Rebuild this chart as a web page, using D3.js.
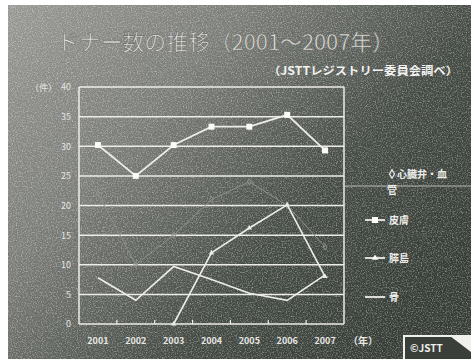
<!DOCTYPE html>
<html>
<head>
<meta charset="utf-8">
<script src="https://cdn.jsdelivr.net/npm/d3@7"></script>
<style>
  body { margin: 0; background: #fff; }
  svg { display: block; }
  text { font-family: "Noto Sans CJK JP", "Noto Sans", sans-serif; }
</style>
</head>
<body>
<div id="chart"></div>
<script>
// donor counts per year
const years = ["2001", "2002", "2003", "2004", "2005", "2006", "2007"];
const valveVessel = [22, 10, 15, 21, 24, 20, 13];   // faint in the scan, rough guess
const skin = [30.2, 25, 30.2, 33.3, 33.3, 35.3, 29.3];
const islet = [null, null, 0, 12, 16.2, 20.1, 8];
const bone = [7.8, 4, 9.7, 7.5, 5.2, 4, 8.3];
const yTicks = [0, 5, 10, 15, 20, 25, 30, 35, 40];
const seriesNames = ["心臓弁・血", "皮膚", "膵島", "骨"];

const width = 471, height = 359;
const svg = d3.select("#chart").append("svg")
  .attr("width", width)
  .attr("height", height);

const defs = svg.append("defs");
const grad = defs.append("linearGradient")
  .attr("id", "bg").attr("x1", 0).attr("y1", 0).attr("x2", 1).attr("y2", 0.7);
grad.append("stop").attr("offset", 0).attr("stop-color", "#989895");
grad.append("stop").attr("offset", 0.35).attr("stop-color", "#7b7d78");
grad.append("stop").attr("offset", 0.7).attr("stop-color", "#454b45");
grad.append("stop").attr("offset", 1).attr("stop-color", "#363c36");

const noise = defs.append("filter").attr("id", "grain")
  .attr("x", 0).attr("y", 0).attr("width", "100%").attr("height", "100%");
noise.append("feTurbulence")
  .attr("type", "fractalNoise").attr("baseFrequency", 0.8)
  .attr("numOctaves", 2).attr("seed", 3);
noise.append("feColorMatrix").attr("type", "matrix")
  .attr("values", "0 0 0 0 1  0 0 0 0 1  0 0 0 0 1  0 0 0 2 -0.9");

// slide background
svg.append("rect").attr("x", 8).attr("y", 5)
  .attr("width", width - 8).attr("height", height - 5)
  .attr("fill", "url(#bg)");
svg.append("rect").attr("x", 8).attr("y", 5)
  .attr("width", width - 8).attr("height", height - 5)
  .attr("filter", "url(#grain)").attr("opacity", 0.5);

// title
svg.append("text")
  .attr("x", 57).attr("y", 50)
  .attr("textLength", 337).attr("lengthAdjust", "spacingAndGlyphs")
  .attr("font-size", 22)
  .attr("fill", "#e2e2de").attr("stroke", "#6a6a66").attr("stroke-width", 0.6)
  .text("ドナー数の推移（2001～2007年）");

svg.append("text")
  .attr("x", 268).attr("y", 75)
  .attr("textLength", 190).attr("lengthAdjust", "spacingAndGlyphs")
  .attr("font-size", 11).attr("font-weight", "bold")
  .attr("fill", "#f2f2f0")
  .text("（JSTTレジストリー委員会調べ）");

// chart
const margin = { left: 79, right: 344, top: 87, bottom: 324 };
const x = d3.scaleBand().domain(years).range([margin.left, margin.right]);
const y = d3.scaleLinear().domain([0, 40]).range([margin.bottom, margin.top]);
const lineColor = "#ecece8";

const g = svg.append("g");

// gridlines
g.selectAll(".grid").data(yTicks).enter().append("line")
  .attr("x1", margin.left).attr("x2", margin.right)
  .attr("y1", d => y(d)).attr("y2", d => y(d))
  .attr("stroke", lineColor).attr("stroke-width", 1.5);

// frame
g.append("line").attr("x1", margin.left).attr("x2", margin.left)
  .attr("y1", margin.top).attr("y2", margin.bottom)
  .attr("stroke", lineColor).attr("stroke-width", 1.5);
g.append("line").attr("x1", margin.right).attr("x2", margin.right)
  .attr("y1", margin.top).attr("y2", margin.bottom)
  .attr("stroke", lineColor).attr("stroke-width", 1.5);

// y axis labels
const yAxis = d3.axisLeft(y).tickValues(yTicks).tickSize(0).tickPadding(8);
svg.append("g").attr("transform", `translate(${margin.left},0)`)
  .call(yAxis)
  .call(s => s.select(".domain").remove())
  .call(s => s.selectAll("text")
    .attr("font-size", 9).attr("fill", "#e6e6e2")
    .attr("font-family", "DejaVu Sans"));

svg.append("text").attr("x", 30).attr("y", 91)
  .attr("font-size", 9).attr("fill", "#e6e6e2").text("（件）");

// x axis: ticks between categories pointing up
const xBoundaries = years.slice(1).map(d => x(d));
g.selectAll(".xt").data(xBoundaries).enter().append("line")
  .attr("x1", d => d).attr("x2", d => d)
  .attr("y1", margin.bottom).attr("y2", margin.bottom - 4)
  .attr("stroke", lineColor).attr("stroke-width", 1.2);

const xAxis = d3.axisBottom(x).tickSize(0).tickPadding(14);
svg.append("g").attr("transform", `translate(0,${margin.bottom})`)
  .call(xAxis)
  .call(s => s.select(".domain").remove())
  .call(s => s.selectAll("text")
    .attr("font-size", 9).attr("font-weight", "bold")
    .attr("fill", "#e6e6e2").attr("font-family", "DejaVu Sans Condensed"));

svg.append("text").attr("x", 348).attr("y", 345)
  .attr("font-size", 10).attr("font-weight", "bold")
  .attr("fill", "#e6e6e2").text("（年）");

// series
const cx = i => x(years[i]) + x.bandwidth() / 2;

function drawSeries(values, color, width) {
  const pts = values.map((v, i) => ({ v, i })).filter(d => d.v != null);
  g.append("path")
    .attr("d", d3.line().x(d => cx(d.i)).y(d => y(d.v))(pts))
    .attr("fill", "none").attr("stroke", color).attr("stroke-width", width);
  return pts;
}

// faint valve / vessel series (barely visible in the scan)
const faint = "#8e908a";
const pv = drawSeries(valveVessel, faint, 1);
g.selectAll(".dia").data(pv).enter().append("path")
  .attr("d", d3.symbol(d3.symbolDiamond, 12)())
  .attr("transform", d => `translate(${cx(d.i)},${y(d.v)})`)
  .attr("fill", "none").attr("stroke", faint);

drawSeries(bone, lineColor, 1.6);

const pi = drawSeries(islet, lineColor, 1.6);
g.selectAll(".tri").data(pi).enter().append("path")
  .attr("d", d3.symbol(d3.symbolTriangle, 12)())
  .attr("transform", d => `translate(${cx(d.i)},${y(d.v)})`)
  .attr("fill", lineColor);

const ps = drawSeries(skin, lineColor, 1.8);
g.selectAll(".sq").data(ps).enter().append("rect")
  .attr("x", d => cx(d.i) - 3).attr("y", d => y(d.v) - 3)
  .attr("width", 6).attr("height", 6)
  .attr("fill", "#fafaf6");

// stray horizontal rule on the right of the slide
svg.append("line").attr("x1", 345).attr("x2", width)
  .attr("y1", 186).attr("y2", 186)
  .attr("stroke", "#b8bab4").attr("stroke-width", 1.2);

// legend
const legend = svg.append("g").attr("fill", "#ecece8")
  .attr("font-size", 10).attr("font-weight", "bold");

legend.append("path")
  .attr("d", d3.symbol(d3.symbolDiamond, 22)())
  .attr("transform", "translate(392,174)")
  .attr("fill", "none").attr("stroke", "#ecece8").attr("stroke-width", 1.2);
legend.append("text").attr("x", 397).attr("y", 178).text(seriesNames[0]);
legend.append("text").attr("x", 387).attr("y", 194).text("管");

const legendRows = [
  { name: seriesNames[1], y: 220, mark: "square" },
  { name: seriesNames[2], y: 258, mark: "triangle" },
  { name: seriesNames[3], y: 297, mark: "none" }
];
legendRows.forEach(r => {
  legend.append("line").attr("x1", 365).attr("x2", 385)
    .attr("y1", r.y).attr("y2", r.y)
    .attr("stroke", "#ecece8").attr("stroke-width", 1.8);
  if (r.mark === "square") {
    legend.append("rect").attr("x", 372).attr("y", r.y - 3)
      .attr("width", 6).attr("height", 6).attr("fill", "#fafaf6");
  } else if (r.mark === "triangle") {
    legend.append("path").attr("d", d3.symbol(d3.symbolTriangle, 16)())
      .attr("transform", `translate(375,${r.y})`).attr("fill", "#fafaf6");
  }
  legend.append("text").attr("x", 389).attr("y", r.y + 4).text(r.name);
});

// copyright badge
svg.append("rect").attr("x", 404).attr("y", 336)
  .attr("width", 70).attr("height", 26)
  .attr("fill", "#3a3f3a").attr("stroke", "#f0f0ec").attr("stroke-width", 2);
svg.append("path").attr("d", "M450,336 L471,336 L471,352 Z").attr("fill", "#f0f0ec");
svg.append("text").attr("x", 410).attr("y", 352)
  .attr("font-size", 10).attr("font-weight", "bold")
  .attr("fill", "#f0f0ec").attr("font-family", "DejaVu Sans Condensed")
  .text("©JSTT");
</script>
</body>
</html>
